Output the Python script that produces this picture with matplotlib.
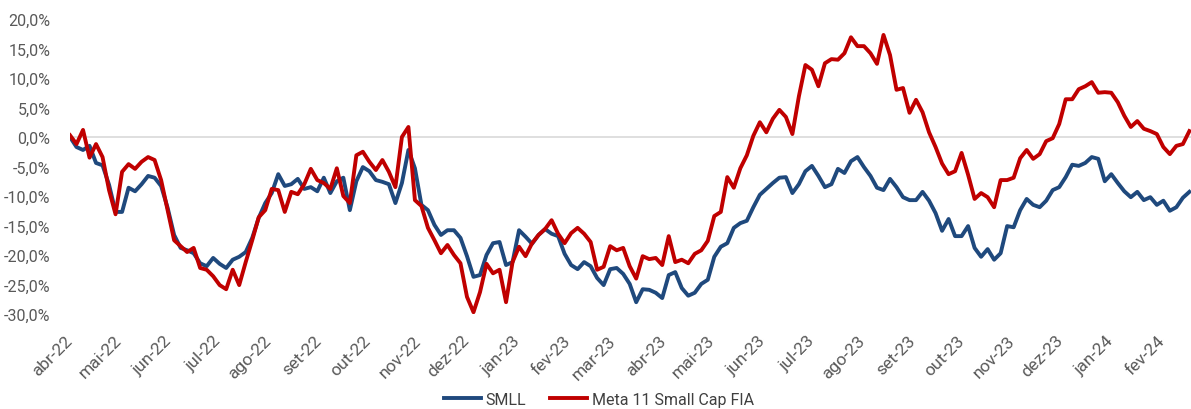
import matplotlib
matplotlib.use('Agg')
import matplotlib.pyplot as plt
import numpy as np
import pandas as pd

plt.rcParams['font.family'] = ['Roboto', 'DejaVu Sans']

# datas (a cada 4 dias) e retornos acumulados em %
start_date = '2022-04-01'
end_date = '2024-02-19'

smll = [0.0, -1.7, -2.2, -1.5, -4.4, -4.8, -8.1, -12.7, -12.7, -8.6,
        -9.2, -8.0, -6.6, -6.9, -8.3, -12.0, -16.6, -18.8, -19.2, -19.7,
        -21.4, -21.9, -20.5, -21.5, -22.2, -20.8, -20.3, -19.5, -17.1, -13.7,
        -11.2, -9.5, -6.3, -8.3, -8.0, -7.1, -8.8, -8.5, -9.2, -6.9,
        -9.5, -7.5, -6.9, -12.4, -7.5, -5.1, -5.8, -7.3, -7.6, -8.0,
        -11.2, -7.8, -2.2, -5.3, -11.5, -12.4, -14.9, -16.6, -15.8, -15.8,
        -17.1, -20.2, -23.7, -23.4, -20.0, -18.0, -17.8, -21.7, -21.2, -15.8,
        -16.9, -18.1, -16.6, -15.6, -16.4, -16.8, -19.8, -21.7, -22.4, -21.2,
        -21.9, -23.9, -25.1, -22.4, -22.2, -23.2, -24.9, -28.0, -25.8, -25.9,
        -26.4, -27.3, -23.4, -22.9, -25.6, -26.9, -26.4, -24.9, -24.2, -20.3,
        -18.6, -18.0, -15.4, -14.6, -14.2, -11.9, -9.8, -8.8, -7.8, -6.9,
        -6.8, -9.5, -8.0, -5.8, -4.9, -6.6, -8.5, -8.0, -5.4, -6.1,
        -4.1, -3.4, -5.1, -6.6, -8.6, -9.0, -7.1, -8.5, -10.2, -10.7,
        -10.7, -9.3, -10.8, -12.9, -15.9, -13.9, -16.8, -16.8, -15.1, -18.8,
        -20.3, -19.0, -20.8, -19.7, -15.1, -15.3, -12.4, -10.5, -11.5, -11.9,
        -10.8, -9.0, -8.5, -6.8, -4.7, -4.9, -4.4, -3.4, -3.7, -7.5,
        -6.3, -7.8, -9.2, -10.2, -9.3, -10.7, -10.2, -11.5, -10.8, -12.5,
        -11.9, -10.3, -9.3]

meta = [0.3, -1.2, 1.2, -3.5, -1.2, -3.4, -9.0, -13.1, -5.9, -4.6,
        -5.4, -4.2, -3.4, -3.9, -7.3, -12.4, -17.5, -18.5, -19.5, -18.8,
        -22.2, -22.5, -23.6, -25.1, -25.8, -22.5, -25.1, -21.2, -17.5, -13.6,
        -12.4, -8.8, -9.0, -12.7, -9.3, -9.7, -8.0, -5.4, -7.3, -7.8,
        -8.8, -5.3, -10.0, -11.2, -3.1, -2.5, -4.2, -5.6, -3.9, -5.9,
        -8.5, 0.0, 1.7, -10.7, -11.7, -15.4, -17.5, -19.7, -18.3, -20.0,
        -21.4, -27.1, -29.7, -26.3, -21.5, -23.1, -22.5, -28.0, -21.2, -18.6,
        -20.2, -18.0, -16.6, -15.6, -14.1, -16.4, -18.0, -16.3, -15.4, -16.4,
        -17.8, -22.5, -22.0, -18.5, -19.2, -18.8, -21.9, -24.0, -20.2, -20.7,
        -20.5, -21.7, -16.8, -21.2, -20.8, -21.4, -19.8, -19.2, -17.6, -13.4,
        -12.7, -6.8, -8.6, -5.3, -3.1, 0.2, 2.5, 0.8, 3.1, 4.6,
        3.4, 0.5, 6.9, 12.2, 11.4, 8.6, 12.5, 13.2, 13.1, 14.2,
        16.9, 15.4, 15.4, 14.2, 12.4, 17.3, 13.9, 8.0, 8.3, 4.1,
        6.3, 4.2, 0.8, -1.7, -4.5, -6.3, -5.8, -2.7, -6.4, -10.5,
        -9.5, -10.2, -11.9, -7.3, -7.3, -6.9, -3.6, -2.2, -3.7, -2.9,
        -0.7, -0.2, 2.2, 6.4, 6.4, 8.1, 8.6, 9.3, 7.5, 7.6,
        7.5, 5.9, 3.6, 1.7, 2.7, 1.4, 1.0, 0.5, -1.7, -2.9,
        -1.5, -1.2, 1.0]

meses = ['jan', 'fev', 'mar', 'abr', 'mai', 'jun', 'jul', 'ago', 'set', 'out', 'nov', 'dez']
y_ticks = [-30, -25, -20, -15, -10, -5, 0, 5, 10, 15, 20]

dates = pd.date_range(start_date, periods=len(smll), freq='4D')

fig = plt.figure(figsize=(11.91, 4.10), dpi=100)
ax = fig.add_axes([70 / 1191, 1 - 315 / 410, 1121 / 1191, 295 / 410])

ax.plot(dates, smll, color='#1F497D', lw=2.8, label='SMLL', solid_joinstyle='round')
ax.plot(dates, meta, color='#C00000', lw=2.8, label='Meta 11 Small Cap FIA', solid_joinstyle='round')

# linha do eixo horizontal cruzando no zero
ax.axhline(0, color='#d9d9d9', lw=1.2, zorder=0)

ax.set_ylim(-30, 20)
ax.set_xlim(pd.Timestamp(start_date), pd.Timestamp(end_date))
ax.set_yticks(y_ticks)
ax.set_yticklabels([f'{v:.1f}%'.replace('.', ',') for v in y_ticks])

month_ticks = pd.date_range('2022-04-01', '2024-02-01', freq='MS')
ax.set_xticks(month_ticks)
ax.set_xticklabels([f'{meses[d.month - 1]}-{d.strftime("%y")}' for d in month_ticks],
                   rotation=45, ha='right', va='center', rotation_mode='anchor')

for s in ax.spines.values():
    s.set_visible(False)
ax.tick_params(axis='both', length=0, labelsize=11.5, colors='#595959')
ax.tick_params(axis='x', labelsize=12.5, pad=17)
ax.tick_params(axis='y', pad=14)

# legenda embaixo, centralizada
fig.legend(loc='center', bbox_to_anchor=(0.503, 0.024), ncol=2, frameon=False,
           fontsize=11.5, handlelength=2.3, handletextpad=0.3, columnspacing=1.5,
           labelcolor='#404040', borderaxespad=0, borderpad=0.1)

fig.savefig('out.png', dpi=100)
